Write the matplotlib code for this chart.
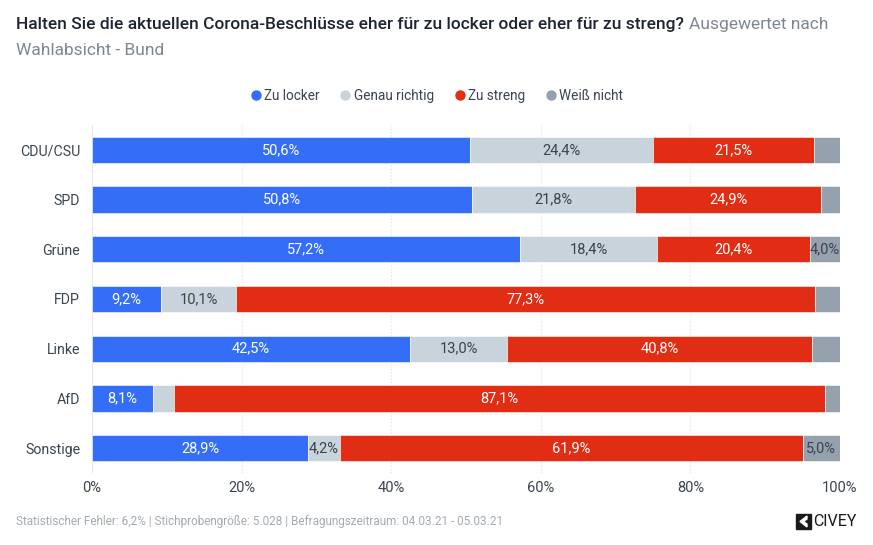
import matplotlib
matplotlib.use("Agg")
import matplotlib.pyplot as plt
import numpy as np
from matplotlib.patches import Rectangle, Polygon

plt.rcParams['font.family'] = ['Roboto', 'DejaVu Sans']

categories = ["CDU/CSU", "SPD", "Grüne", "FDP", "Linke", "AfD", "Sonstige"]
series_names = ["Zu locker", "Genau richtig", "Zu streng", "Weiß nicht"]
zu_locker = [50.6, 50.8, 57.2, 9.2, 42.5, 8.1, 28.9]
genau_richtig = [24.4, 21.8, 18.4, 10.1, 13.0, 2.8, 4.2]
zu_streng = [21.5, 24.9, 20.4, 77.3, 40.8, 87.1, 61.9]
weiss_nicht = [3.5, 2.5, 4.0, 3.4, 3.7, 2.0, 5.0]
xticks = [0, 20, 40, 60, 80, 100]
xtick_labels = ["0%", "20%", "40%", "60%", "80%", "100%"]

colors = ["#356ef6", "#c8d3dc", "#e02d14", "#95a2ae"]
label_colors = ["white", "#3a4450", "white", "#3a4450"]
text_dark = "#3a4450"

W, H = 873, 545
fig = plt.figure(figsize=(W / 100, H / 100), dpi=100)
ax = fig.add_axes([92 / W, 1 - 473 / H, (840 - 92) / W, (473 - 125) / H])

series = [zu_locker, genau_richtig, zu_streng, weiss_nicht]
y = np.arange(len(categories))
left = np.zeros(len(categories))
for vals, col, lc in zip(series, colors, label_colors):
    vals = np.array(vals)
    ax.barh(y, vals, left=left, height=0.53, color=col, edgecolor="white",
            linewidth=0.4, zorder=3)
    for yi, (l, v) in enumerate(zip(left, vals)):
        if v >= 4.0:
            ax.text(l + v / 2, yi, f"{v:.1f}%".replace(".", ","), ha="center",
                    va="center", color=lc, fontsize=10.5, zorder=4)
    left = left + vals

ax.set_xlim(0, 100)
ax.set_ylim(len(categories) - 0.5, -0.5)
ax.set_yticks(y)
ax.set_yticklabels(categories, fontsize=10.2, color=text_dark)
ax.set_xticks(xticks)
ax.set_xticklabels(xtick_labels, fontsize=10.5, color=text_dark)
ax.tick_params(axis="both", length=0)
ax.tick_params(axis="y", pad=8.5)
ax.tick_params(axis="x", pad=6)
for s in ax.spines.values():
    s.set_visible(False)
for xv in xticks[1:]:
    ax.axvline(xv, color="#e6e9ec", linewidth=0.8, linestyle=(0, (1.5, 1.5)), zorder=1)
ax.axvline(0, color="#e0e3e6", linewidth=1.2, zorder=1)

# Title
t1 = fig.text(16 / W, 1 - 29 / H,
              "Halten Sie die aktuellen Corona-Beschlüsse eher für zu locker oder eher für zu streng?",
              fontsize=12.5, fontweight="medium", color="#1d2530", ha="left", va="baseline")
fig.canvas.draw()
r = fig.canvas.get_renderer()
bb = t1.get_window_extent(r)
fig.text((bb.x1 + 5) / W, 1 - 29 / H, "Ausgewertet nach", fontsize=12.5,
         color="#7d8792", ha="left", va="baseline")
fig.text(16 / W, 1 - 55 / H, "Wahlabsicht - Bund", fontsize=12.5,
         color="#7d8792", ha="left", va="baseline")

# Legend
handles = [plt.Line2D([], [], marker="o", linestyle="", color=c, markersize=6.5)
           for c in colors]
leg = fig.legend(handles, series_names, loc="center", bbox_to_anchor=(436 / W, 1 - 96 / H),
                 ncol=4, frameon=False, fontsize=9.8, handletextpad=0.1,
                 columnspacing=1.4, handlelength=1.0)
for t in leg.get_texts():
    t.set_color(text_dark)

# Footer
fig.text(16 / W, 1 - 521 / H,
         "Statistischer Fehler: 6,2% | Stichprobengröße: 5.028 | Befragungszeitraum: 04.03.21 - 05.03.21",
         fontsize=8.5, color="#a3abb3", ha="left", va="center")

# Logo
lx, ly, ls = 796, 514, 15
fig.patches.append(Rectangle((lx / W, 1 - (ly + ls) / H), ls / W, ls / H,
                             transform=fig.transFigure, color="#1a1a1a"))
chev = [(lx + 11, ly + 2), (lx + 4, ly + 7.5), (lx + 11, ly + 13), (lx + 11, ly + 10),
        (lx + 7.5, ly + 7.5), (lx + 11, ly + 5)]
fig.patches.append(Polygon([(px / W, 1 - py / H) for px, py in chev], closed=True,
                           transform=fig.transFigure, color="white"))
fig.text((lx + ls + 2) / W, 1 - (ly + ls / 2) / H, "CIVEY", fontsize=11.5,
         color="#1a1a1a", ha="left", va="center")

fig.savefig("out.png", dpi=100)
